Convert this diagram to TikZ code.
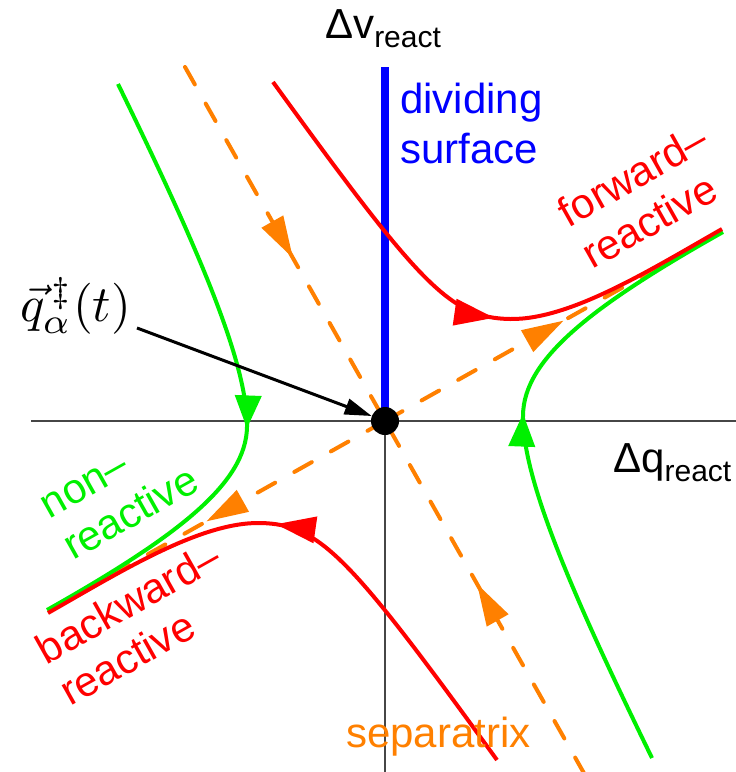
\documentclass[tikz,border=0pt]{standalone}
\usepackage{fontspec}
\setmainfont{Liberation Sans}
\usetikzlibrary{arrows.meta,decorations.markings,calc}
\definecolor{cred}{RGB}{255,0,0}
\definecolor{cgreen}{RGB}{0,240,0}
\definecolor{corange}{RGB}{255,128,0}
\definecolor{cblue}{RGB}{0,0,255}
\definecolor{caxis}{RGB}{70,70,70}
\begin{document}
\begin{tikzpicture}[x=1pt,y=-1pt,
  axisline/.style={draw=caxis,line width=1.4pt},
  divline/.style={draw=cblue,line width=8pt},
  septx/.style={draw=corange,line width=4pt,line cap=round,dash pattern=on 20pt off 22pt},
  redtraj/.style={draw=cred,line width=4pt},
  greentraj/.style={draw=cgreen,line width=4pt},
  arrowat/.style n args={3}{postaction={decorate,decoration={markings,
     mark=at position #1 with {\arrow{Triangle[length=#2,width=#3]}}}}},
  lab/.style={inner sep=0pt,align=left,font=\fontsize{42}{48}\selectfont},
]
\useasboundingbox (0,0) rectangle (736,772);
% coordinates
\coordinate (O) at (385,421);
\coordinate (xl) at (31,421);
\coordinate (xr) at (736,421);
\coordinate (yt) at (385,67);
\coordinate (yb) at (385,772);
\coordinate (sA) at (185,67);
\coordinate (sB) at (585,775);
\coordinate (uA) at (716,235);
\coordinate (uB) at (54,607);
% axes
\draw[axisline] (xl) -- (xr);
\draw[axisline] (O) -- (yb);
\draw[divline] (yt) -- (O);
% separatrix
\draw[septx,arrowat={0.54}{42pt}{24pt}] (sA) -- (O);
\draw[septx,arrowat={0.54}{42pt}{24pt}] (sB) -- (O);
\draw[septx,arrowat={0.54}{42pt}{24pt}] (O) -- (uA);
\draw[septx,arrowat={0.54}{42pt}{24pt}] (O) -- (uB);
% non-reactive (green)
\draw[greentraj,arrowat={0.57}{33pt}{26pt}] (652,758) .. controls (575,600) and (522,480) .. (523,415)
   .. controls (524,360) and (588,308) .. (723,232);
\begin{scope}[rotate around={180:(O)}]
\draw[greentraj,arrowat={0.57}{33pt}{26pt}] (652,758) .. controls (575,600) and (522,480) .. (523,415)
   .. controls (524,360) and (588,308) .. (723,232);
\end{scope}
% reactive (red)
\draw[redtraj,arrowat={0.57}{40pt}{26pt}] (273,82) .. controls (420,285) and (450,318) .. (510,319)
   .. controls (570,320) and (650,270) .. (722,229);
\begin{scope}[rotate around={180:(O)}]
\draw[redtraj,arrowat={0.57}{40pt}{26pt}] (273,82) .. controls (420,285) and (450,318) .. (510,319)
   .. controls (570,320) and (650,270) .. (722,229);
\end{scope}
% saddle point
\node[circle,fill=black,minimum size=28pt,inner sep=0pt] (dot) at (O) {};
\node[inner sep=0pt,anchor=base west] (qlab) at (20,321)
   {\scalebox{5.1}{$\vec{q}^{\,\ddagger}_{\alpha}(t)$}};
\coordinate (qs) at (137,328);
\draw[line width=3pt,-{Triangle[length=27pt,width=16pt]}] (qs) -- (dot);
% labels
\node[lab,anchor=base west] (dv) at (325,38) {Δv\raisebox{-9pt}{\fontsize{30}{30}\selectfont react}};
\node[lab,anchor=base west] (dq) at (613,472) {Δq\raisebox{-9pt}{\fontsize{30}{30}\selectfont react}};
\node[lab,text=cblue,anchor=base west,font=\fontsize{42}{50}\selectfont] (div) at (400,163) {dividing\\surface};
\node[lab,text=cred,rotate=29.3,anchor=base west] (fw) at (592,270) {forward–\\reactive};
\node[lab,text=cgreen,rotate=29.3,anchor=base west] (nr) at (73,561) {non–\\reactive};
\node[lab,text=cred,rotate=29.3,anchor=base west] (bw) at (70,707) {backward–\\reactive};
\node[lab,text=corange,anchor=base west] (sepl) at (346,747) {separatrix};
\end{tikzpicture}
\end{document}
